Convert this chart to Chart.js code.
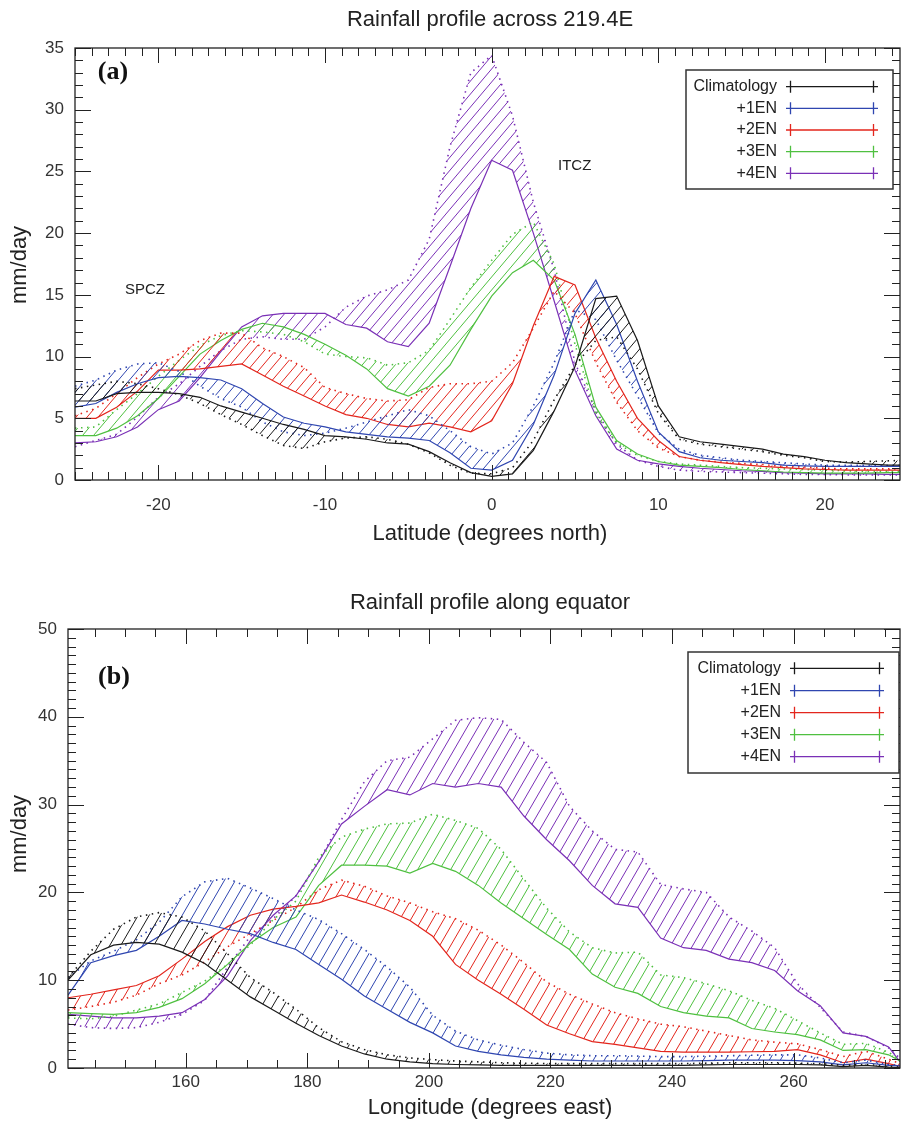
<!DOCTYPE html>
<html>
<head>
<meta charset="utf-8">
<script src="https://cdn.jsdelivr.net/npm/chart.js@4.4.1/dist/chart.umd.min.js"></script>
<style>
  body { margin: 0; background: #fff; }
  canvas { position: absolute; left: 0; }
</style>
</head>
<body>
<canvas id="chartA" width="902" height="565" style="top:0px"></canvas>
<canvas id="chartB" width="902" height="557" style="top:565px"></canvas>
<script>
// ---- data: panel (a), rainfall across 219.4E ----
var latitude = [-25, -23.75, -22.5, -21.25, -20, -18.75, -17.5, -16.25, -15, -13.75, -12.5, -11.25, -10, -8.75, -7.5, -6.25, -5, -3.75, -2.5, -1.25, 0, 1.25, 2.5, 3.75, 5, 6.25, 7.5, 8.75, 10, 11.25, 12.5, 13.75, 15, 16.25, 17.5, 18.75, 20, 21.25, 22.5, 23.75, 25];

var climSolidA = [6.4, 6.4, 7.0, 7.1, 7.1, 7.0, 6.7, 6.0, 5.5, 5.0, 4.5, 4.1, 3.6, 3.5, 3.3, 3.0, 2.9, 2.3, 1.4, 0.6, 0.3, 0.5, 2.4, 5.6, 9.2, 14.7, 14.9, 11.3, 6.0, 3.5, 3.1, 2.9, 2.7, 2.5, 2.1, 1.9, 1.6, 1.4, 1.3, 1.2, 1.2];
var climDotA   = [7.4, 7.7, 8.0, 7.8, 7.4, 6.9, 6.2, 5.3, 4.5, 3.6, 2.8, 2.55, 3.1, 3.4, 3.5, 3.3, 2.9, 2.2, 1.2, 0.55, 0.5, 1.0, 3.2, 6.5, 9.3, 11.3, 11.6, 9.0, 5.4, 3.3, 2.9, 2.7, 2.5, 2.3, 2.0, 1.8, 1.5, 1.45, 1.5, 1.55, 1.6];
var en1SolidA  = [5.9, 6.2, 7.1, 7.8, 8.3, 8.4, 8.3, 8.1, 7.4, 6.2, 5.1, 4.6, 4.3, 3.9, 3.7, 3.5, 3.4, 3.2, 2.2, 0.95, 0.8, 1.6, 4.5, 8.5, 13.5, 16.2, 12.6, 8.0, 3.9, 2.3, 1.8, 1.6, 1.5, 1.4, 1.2, 1.15, 1.1, 1.1, 1.1, 1.1, 1.1];
var en1DotA    = [7.6, 8.1, 8.9, 9.4, 9.5, 8.8, 7.6, 6.6, 5.9, 4.7, 3.9, 3.6, 3.8, 4.2, 4.7, 5.2, 5.7, 5.2, 4.0, 2.7, 2.1, 3.0, 6.0, 9.5, 13.8, 13.0, 9.7, 6.8, 3.8, 2.5, 2.0, 1.8, 1.6, 1.5, 1.4, 1.3, 1.2, 1.2, 1.2, 1.2, 1.2];
var en2SolidA  = [5.0, 5.0, 5.9, 7.2, 8.9, 8.9, 9.0, 9.2, 9.4, 8.5, 7.6, 6.8, 6.0, 5.3, 5.0, 4.5, 4.3, 4.6, 4.3, 3.9, 4.8, 7.8, 12.5, 16.5, 15.8, 11.5, 8.0, 5.0, 3.2, 1.9, 1.6, 1.4, 1.25, 1.1, 1.0, 0.9, 0.85, 0.8, 0.8, 0.8, 0.8];
var en2DotA    = [5.2, 5.8, 7.0, 8.3, 9.4, 10.2, 11.3, 11.9, 11.9, 10.7, 10.0, 9.1, 7.5, 7.0, 6.6, 6.4, 6.5, 7.5, 7.8, 7.8, 8.0, 9.5, 12.3, 15.3, 13.5, 9.5, 6.3, 4.0, 2.6, 1.9, 1.6, 1.45, 1.35, 1.25, 1.1, 1.05, 0.95, 0.9, 0.9, 0.9, 0.9];
var en3SolidA  = [3.6, 3.6, 4.2, 5.2, 6.6, 8.4, 10.2, 11.3, 12.2, 12.7, 12.4, 11.8, 11.0, 10.1, 9.0, 7.4, 6.8, 7.6, 9.3, 12.2, 14.9, 16.8, 17.8, 16.2, 11.8, 5.9, 3.2, 2.1, 1.5, 1.2, 1.1, 1.0, 0.85, 0.75, 0.65, 0.6, 0.55, 0.55, 0.55, 0.6, 0.6];
var en3DotA    = [4.2, 4.3, 5.7, 7.0, 8.4, 9.7, 10.9, 11.7, 12.1, 12.0, 11.8, 11.2, 10.2, 10.0, 9.9, 9.3, 9.5, 10.5, 13.0, 15.6, 17.8, 19.9, 20.9, 17.5, 11.0, 5.3, 3.0, 2.0, 1.5, 1.3, 1.2, 1.1, 1.0, 0.95, 0.9, 0.85, 0.8, 0.75, 0.7, 0.7, 0.7];
var en4SolidA  = [3.0, 3.1, 3.5, 4.3, 5.7, 6.4, 8.3, 10.4, 12.4, 13.3, 13.5, 13.5, 13.5, 12.6, 12.3, 11.2, 10.8, 12.7, 17.3, 22.0, 25.9, 25.1, 20.0, 14.5, 8.9, 5.2, 2.5, 1.6, 1.3, 1.1, 0.95, 0.85, 0.75, 0.7, 0.6, 0.55, 0.5, 0.5, 0.5, 0.45, 0.45];
var en4DotA    = [2.7, 3.2, 3.7, 5.1, 6.7, 7.8, 9.2, 10.5, 11.4, 11.6, 11.4, 11.4, 12.4, 14.0, 14.9, 15.4, 16.2, 19.5, 27.0, 33.0, 34.4, 29.5, 22.5, 17.0, 9.5, 5.6, 2.9, 1.6, 1.1, 0.8, 0.7, 0.65, 0.6, 0.55, 0.5, 0.45, 0.45, 0.4, 0.4, 0.4, 0.4];

// ---- data: panel (b), rainfall along the equator ----
var longitude = [140.625, 144.375, 148.125, 151.875, 155.625, 159.375, 163.125, 166.875, 170.625, 174.375, 178.125, 181.875, 185.625, 189.375, 193.125, 196.875, 200.625, 204.375, 208.125, 211.875, 215.625, 219.375, 223.125, 226.875, 230.625, 234.375, 238.125, 241.875, 245.625, 249.375, 253.125, 256.875, 260.625, 264.375, 268.125, 271.875, 275.625, 277.5];

var climSolidB = [10.0, 12.9, 14.0, 14.3, 14.1, 13.2, 11.9, 10.0, 8.1, 6.6, 5.1, 3.7, 2.5, 1.6, 1.0, 0.7, 0.5, 0.4, 0.35, 0.3, 0.3, 0.3, 0.3, 0.3, 0.3, 0.3, 0.3, 0.3, 0.35, 0.4, 0.4, 0.4, 0.4, 0.35, 0.15, 0.3, 0.1, 0.05];
var climDotB   = [10.3, 13.3, 15.8, 17.2, 17.7, 17.2, 15.6, 13.0, 10.3, 8.6, 6.7, 4.6, 3.0, 2.1, 1.5, 1.15, 0.95, 0.8, 0.7, 0.6, 0.55, 0.5, 0.5, 0.5, 0.5, 0.5, 0.5, 0.5, 0.55, 0.6, 0.6, 0.6, 0.55, 0.5, 0.3, 0.4, 0.2, 0.1];
var en1SolidB  = [8.3, 12.0, 12.8, 13.4, 15.0, 16.8, 16.4, 15.8, 15.3, 14.3, 13.5, 11.8, 10.1, 8.2, 6.7, 5.2, 4.0, 2.5, 1.9, 1.5, 1.2, 1.0, 0.9, 0.8, 0.8, 0.8, 0.8, 0.8, 0.85, 0.9, 0.9, 0.9, 0.85, 0.7, 0.35, 0.6, 0.3, 0.25];
var en1DotB    = [10.3, 12.2, 13.3, 14.6, 16.6, 19.5, 21.2, 21.6, 20.5, 19.3, 18.0, 16.9, 15.3, 13.5, 11.5, 9.2, 6.0, 4.2, 3.2, 2.6, 2.1, 1.7, 1.5, 1.4, 1.4, 1.35, 1.3, 1.3, 1.35, 1.4, 1.45, 1.5, 1.5, 1.15, 0.6, 0.9, 0.4, 0.3];
var en2SolidB  = [8.0, 8.4, 8.9, 9.4, 10.5, 12.4, 14.4, 16.1, 17.4, 18.1, 18.4, 18.8, 19.7, 18.9, 18.0, 16.8, 15.0, 11.8, 10.0, 8.4, 6.7, 4.9, 3.9, 3.0, 2.7, 2.3, 1.9, 1.8, 1.8, 1.8, 1.85, 1.9, 2.1, 1.5, 0.6, 1.0, 0.5, 0.2];
var en2DotB    = [6.6, 7.0, 7.5, 8.3, 9.6, 10.6, 12.1, 13.8, 15.3, 16.8, 18.3, 20.3, 21.4, 20.7, 19.6, 18.8, 17.8, 17.0, 15.7, 14.0, 12.0, 9.8, 8.4, 7.3, 6.3, 5.6, 5.0, 4.7, 4.2, 3.7, 3.2, 2.95, 2.75, 2.1, 1.3, 1.9, 1.0, 0.5];
var en3SolidB  = [6.3, 6.2, 6.1, 6.3, 6.9, 7.9, 9.6, 11.8, 14.2, 16.0, 17.2, 20.8, 23.1, 23.1, 23.0, 22.2, 23.3, 22.4, 20.8, 18.8, 17.0, 15.2, 13.5, 10.7, 9.2, 8.5, 7.0, 6.3, 5.9, 5.7, 4.5, 4.1, 3.8, 3.2, 2.0, 2.1, 1.5, 0.8];
var en3DotB    = [5.7, 5.6, 5.9, 6.6, 7.3, 8.6, 9.9, 11.8, 14.0, 16.9, 19.0, 24.0, 26.3, 27.2, 27.8, 27.9, 28.9, 28.2, 27.3, 24.9, 21.5, 18.2, 15.5, 13.7, 13.1, 13.2, 10.6, 10.3, 9.6, 8.8, 7.7, 6.8, 5.4, 4.0, 2.7, 2.8, 1.8, 0.9];
var en4SolidB  = [6.1, 5.9, 5.7, 5.7, 5.9, 6.3, 7.8, 10.5, 14.5, 17.4, 19.6, 23.5, 27.8, 29.8, 31.7, 31.1, 32.4, 32.0, 32.4, 32.0, 28.7, 26.0, 23.6, 20.8, 18.7, 18.3, 14.8, 13.7, 13.4, 12.4, 12.0, 11.1, 8.8, 7.1, 4.0, 3.6, 2.4, 0.7];
var en4DotB    = [5.0, 4.6, 4.5, 4.6, 5.2, 6.1, 7.7, 11.5, 15.0, 17.0, 19.6, 23.5, 28.3, 32.6, 35.0, 35.4, 37.5, 39.6, 39.9, 39.7, 37.1, 34.8, 29.8, 27.0, 24.9, 24.6, 20.9, 20.4, 20.0, 17.2, 15.6, 13.7, 9.6, 6.9, 4.1, 3.6, 2.3, 1.1];

// ---- labels and tick values ----
var seriesNames = ['Climatology', '+1EN', '+2EN', '+3EN', '+4EN'];
var latTicks = [-20, -10, 0, 10, 20];
var lonTicks = [160, 180, 200, 220, 240, 260];
var rainTicksA = [0, 5, 10, 15, 20, 25, 30, 35];
var rainTicksB = [0, 10, 20, 30, 40, 50];

var colors = ['#1a1a1a', '#2f46b0', '#e3261d', '#4fc040', '#7a30b6'];
var FONT = "'Liberation Sans', Arial, sans-serif";

function hatch(canvas, color, w, h) {
  var t = document.createElement('canvas');
  t.width = w; t.height = h;
  var g = t.getContext('2d');
  g.strokeStyle = color;
  g.lineWidth = 1;
  g.beginPath();
  for (var k = -1; k <= 1; k++) {
    g.moveTo(k * w - w, 2 * h);
    g.lineTo(k * w + 2 * w, -h);
  }
  g.stroke();
  return canvas.getContext('2d').createPattern(t, 'repeat');
}

function buildDatasets(xs, solids, dots, canvas, tw, th) {
  var sets = [];
  for (var i = 0; i < seriesNames.length; i++) {
    var s = solids[i], d = dots[i];
    sets.push({
      label: seriesNames[i],
      data: xs.map(function (x, j) { return { x: x, y: s[j] }; }),
      borderColor: colors[i], borderWidth: 1.2,
      pointRadius: 0, tension: 0, fill: false
    });
    sets.push({
      label: seriesNames[i] + ' dotted',
      data: xs.map(function (x, j) { return { x: x, y: d[j] }; }),
      borderColor: colors[i], borderWidth: 1.6, borderDash: [1.5, 4.5],
      pointRadius: 0, tension: 0,
      fill: '-1', backgroundColor: hatch(canvas, colors[i], tw, th)
    });
  }
  return sets;
}

// frame, inward ticks, titles, legend and notes
function decor(spec) {
  return {
    id: 'decor',
    afterDatasetsDraw: function (chart) {
      var ctx = chart.ctx, a = chart.chartArea;
      var xs = chart.scales.x, ys = chart.scales.y;
      var v, p, len;
      ctx.save();
      ctx.strokeStyle = '#222';
      ctx.lineWidth = 1;
      ctx.beginPath();
      for (v = spec.xt.from; v <= spec.xt.to; v += spec.xt.step) {
        p = Math.round(xs.getPixelForValue(v)) + 0.5;
        len = (v % spec.xt.major === 0) ? 15 : 8;
        ctx.moveTo(p, a.bottom); ctx.lineTo(p, a.bottom - len);
        ctx.moveTo(p, a.top); ctx.lineTo(p, a.top + len);
      }
      for (v = spec.yt.from; v <= spec.yt.to; v += spec.yt.step) {
        p = Math.round(ys.getPixelForValue(v)) + 0.5;
        len = (v % spec.yt.major === 0) ? 16 : 8;
        ctx.moveTo(a.left, p); ctx.lineTo(a.left + len, p);
        ctx.moveTo(a.right, p); ctx.lineTo(a.right - len, p);
      }
      ctx.stroke();
      ctx.lineWidth = 1.3;
      ctx.strokeRect(a.left, a.top, a.right - a.left, a.bottom - a.top);

      ctx.fillStyle = '#222';
      ctx.textBaseline = 'middle';
      ctx.textAlign = 'center';
      ctx.font = '22px ' + FONT;
      ctx.fillText(spec.title, 490, spec.titleY);
      ctx.fillText(spec.xTitle, 490, spec.xTitleY);
      ctx.save();
      ctx.translate(20, spec.yTitleY);
      ctx.rotate(-Math.PI / 2);
      ctx.fillText('mm/day', 0, 0);
      ctx.restore();

      ctx.font = 'bold 26px "Liberation Serif", serif';
      ctx.fillStyle = '#111';
      ctx.fillText(spec.tag, spec.tagX, spec.tagY);

      ctx.font = '15px ' + FONT;
      ctx.fillStyle = '#222';
      ctx.textAlign = 'left';
      spec.notes.forEach(function (n) { ctx.fillText(n.text, n.x, n.y); });

      var L = spec.legend;
      ctx.fillStyle = '#fff';
      ctx.fillRect(L.left, L.top, L.right - L.left, L.bottom - L.top);
      ctx.strokeStyle = '#333';
      ctx.lineWidth = 1.5;
      ctx.strokeRect(L.left, L.top, L.right - L.left, L.bottom - L.top);
      ctx.font = '16px ' + FONT;
      ctx.textAlign = 'right';
      for (var i = 0; i < seriesNames.length; i++) {
        var y = L.rows[i];
        ctx.fillStyle = '#222';
        ctx.fillText(seriesNames[i], L.textRight, y);
        ctx.strokeStyle = colors[i];
        ctx.lineWidth = 1.3;
        ctx.beginPath();
        ctx.moveTo(L.x1, y); ctx.lineTo(L.x2, y);
        ctx.moveTo(L.p1, y - 6); ctx.lineTo(L.p1, y + 6);
        ctx.moveTo(L.p2, y - 6); ctx.lineTo(L.p2, y + 6);
        ctx.stroke();
      }
      ctx.restore();
    }
  };
}

function makeChart(id, xs, solids, dots, opt) {
  var canvas = document.getElementById(id);
  return new Chart(canvas, {
    type: 'line',
    data: { datasets: buildDatasets(xs, solids, dots, canvas, opt.tw, opt.th) },
    options: {
      responsive: false,
      animation: false,
      events: [],
      layout: { padding: { top: opt.top, right: 2, left: 0, bottom: 0 } },
      plugins: { legend: { display: false }, title: { display: false }, tooltip: { enabled: false } },
      scales: {
        x: {
          type: 'linear', min: opt.xmin, max: opt.xmax,
          grid: { display: false, drawTicks: false }, border: { display: false },
          afterBuildTicks: function (s) { s.ticks = opt.xTicks.map(function (v) { return { value: v }; }); },
          afterFit: function (s) { s.height = opt.xh; },
          ticks: { padding: opt.xpad, autoSkip: false, maxRotation: 0, color: '#333',
                   font: { family: FONT, size: 17 }, callback: function (v) { return String(v); } }
        },
        y: {
          type: 'linear', min: 0, max: opt.ymax,
          grid: { display: false, drawTicks: false }, border: { display: false },
          afterBuildTicks: function (s) { s.ticks = opt.yTicks.map(function (v) { return { value: v }; }); },
          afterFit: function (s) { s.width = opt.yw; },
          ticks: { padding: 11, color: '#333', font: { family: FONT, size: 17 },
                   callback: function (v) { return String(v); } }
        }
      }
    },
    plugins: [decor(opt.spec)]
  });
}

makeChart('chartA', latitude,
  [climSolidA, en1SolidA, en2SolidA, en3SolidA, en4SolidA],
  [climDotA, en1DotA, en2DotA, en3DotA, en4DotA],
  {
    tw: 11, th: 13, top: 48, xh: 85, yw: 75, xpad: 15,
    xmin: -25, xmax: 24.5, ymax: 35, xTicks: latTicks, yTicks: rainTicksA,
    spec: {
      title: 'Rainfall profile across 219.4E', titleY: 20,
      xTitle: 'Latitude (degrees north)', xTitleY: 534, yTitleY: 265,
      tag: '(a)', tagX: 113, tagY: 72,
      xt: { from: -25, to: 24, step: 1, major: 10 },
      yt: { from: 0, to: 35, step: 1, major: 5 },
      notes: [{ text: 'SPCZ', x: 125, y: 290 }, { text: 'ITCZ', x: 558, y: 166 }],
      legend: { left: 686, top: 70, right: 893, bottom: 189, textRight: 777, x1: 786, x2: 878, p1: 790.5, p2: 873.5,
                rows: [86.7, 108.3, 130, 151.7, 173.3] }
    }
  });

makeChart('chartB', longitude,
  [climSolidB, en1SolidB, en2SolidB, en3SolidB, en4SolidB],
  [climDotB, en1DotB, en2DotB, en3DotB, en4DotB],
  {
    tw: 11, th: 19, top: 64, xh: 54, yw: 68, xpad: 4,
    xmin: 140.625, xmax: 277.5, ymax: 50, xTicks: lonTicks, yTicks: rainTicksB,
    spec: {
      title: 'Rainfall profile along equator', titleY: 38,
      xTitle: 'Longitude (degrees east)', xTitleY: 543, yTitleY: 269,
      tag: '(b)', tagX: 114, tagY: 112,
      xt: { from: 145, to: 275, step: 5, major: 20 },
      yt: { from: 0, to: 50, step: 1, major: 10 },
      notes: [],
      legend: { left: 688, top: 87, right: 899, bottom: 208, textRight: 781, x1: 790, x2: 884, p1: 794.5, p2: 879.5,
                rows: [103.3, 125.7, 147.7, 169.7, 191.7] }
    }
  });
</script>
</body>
</html>
